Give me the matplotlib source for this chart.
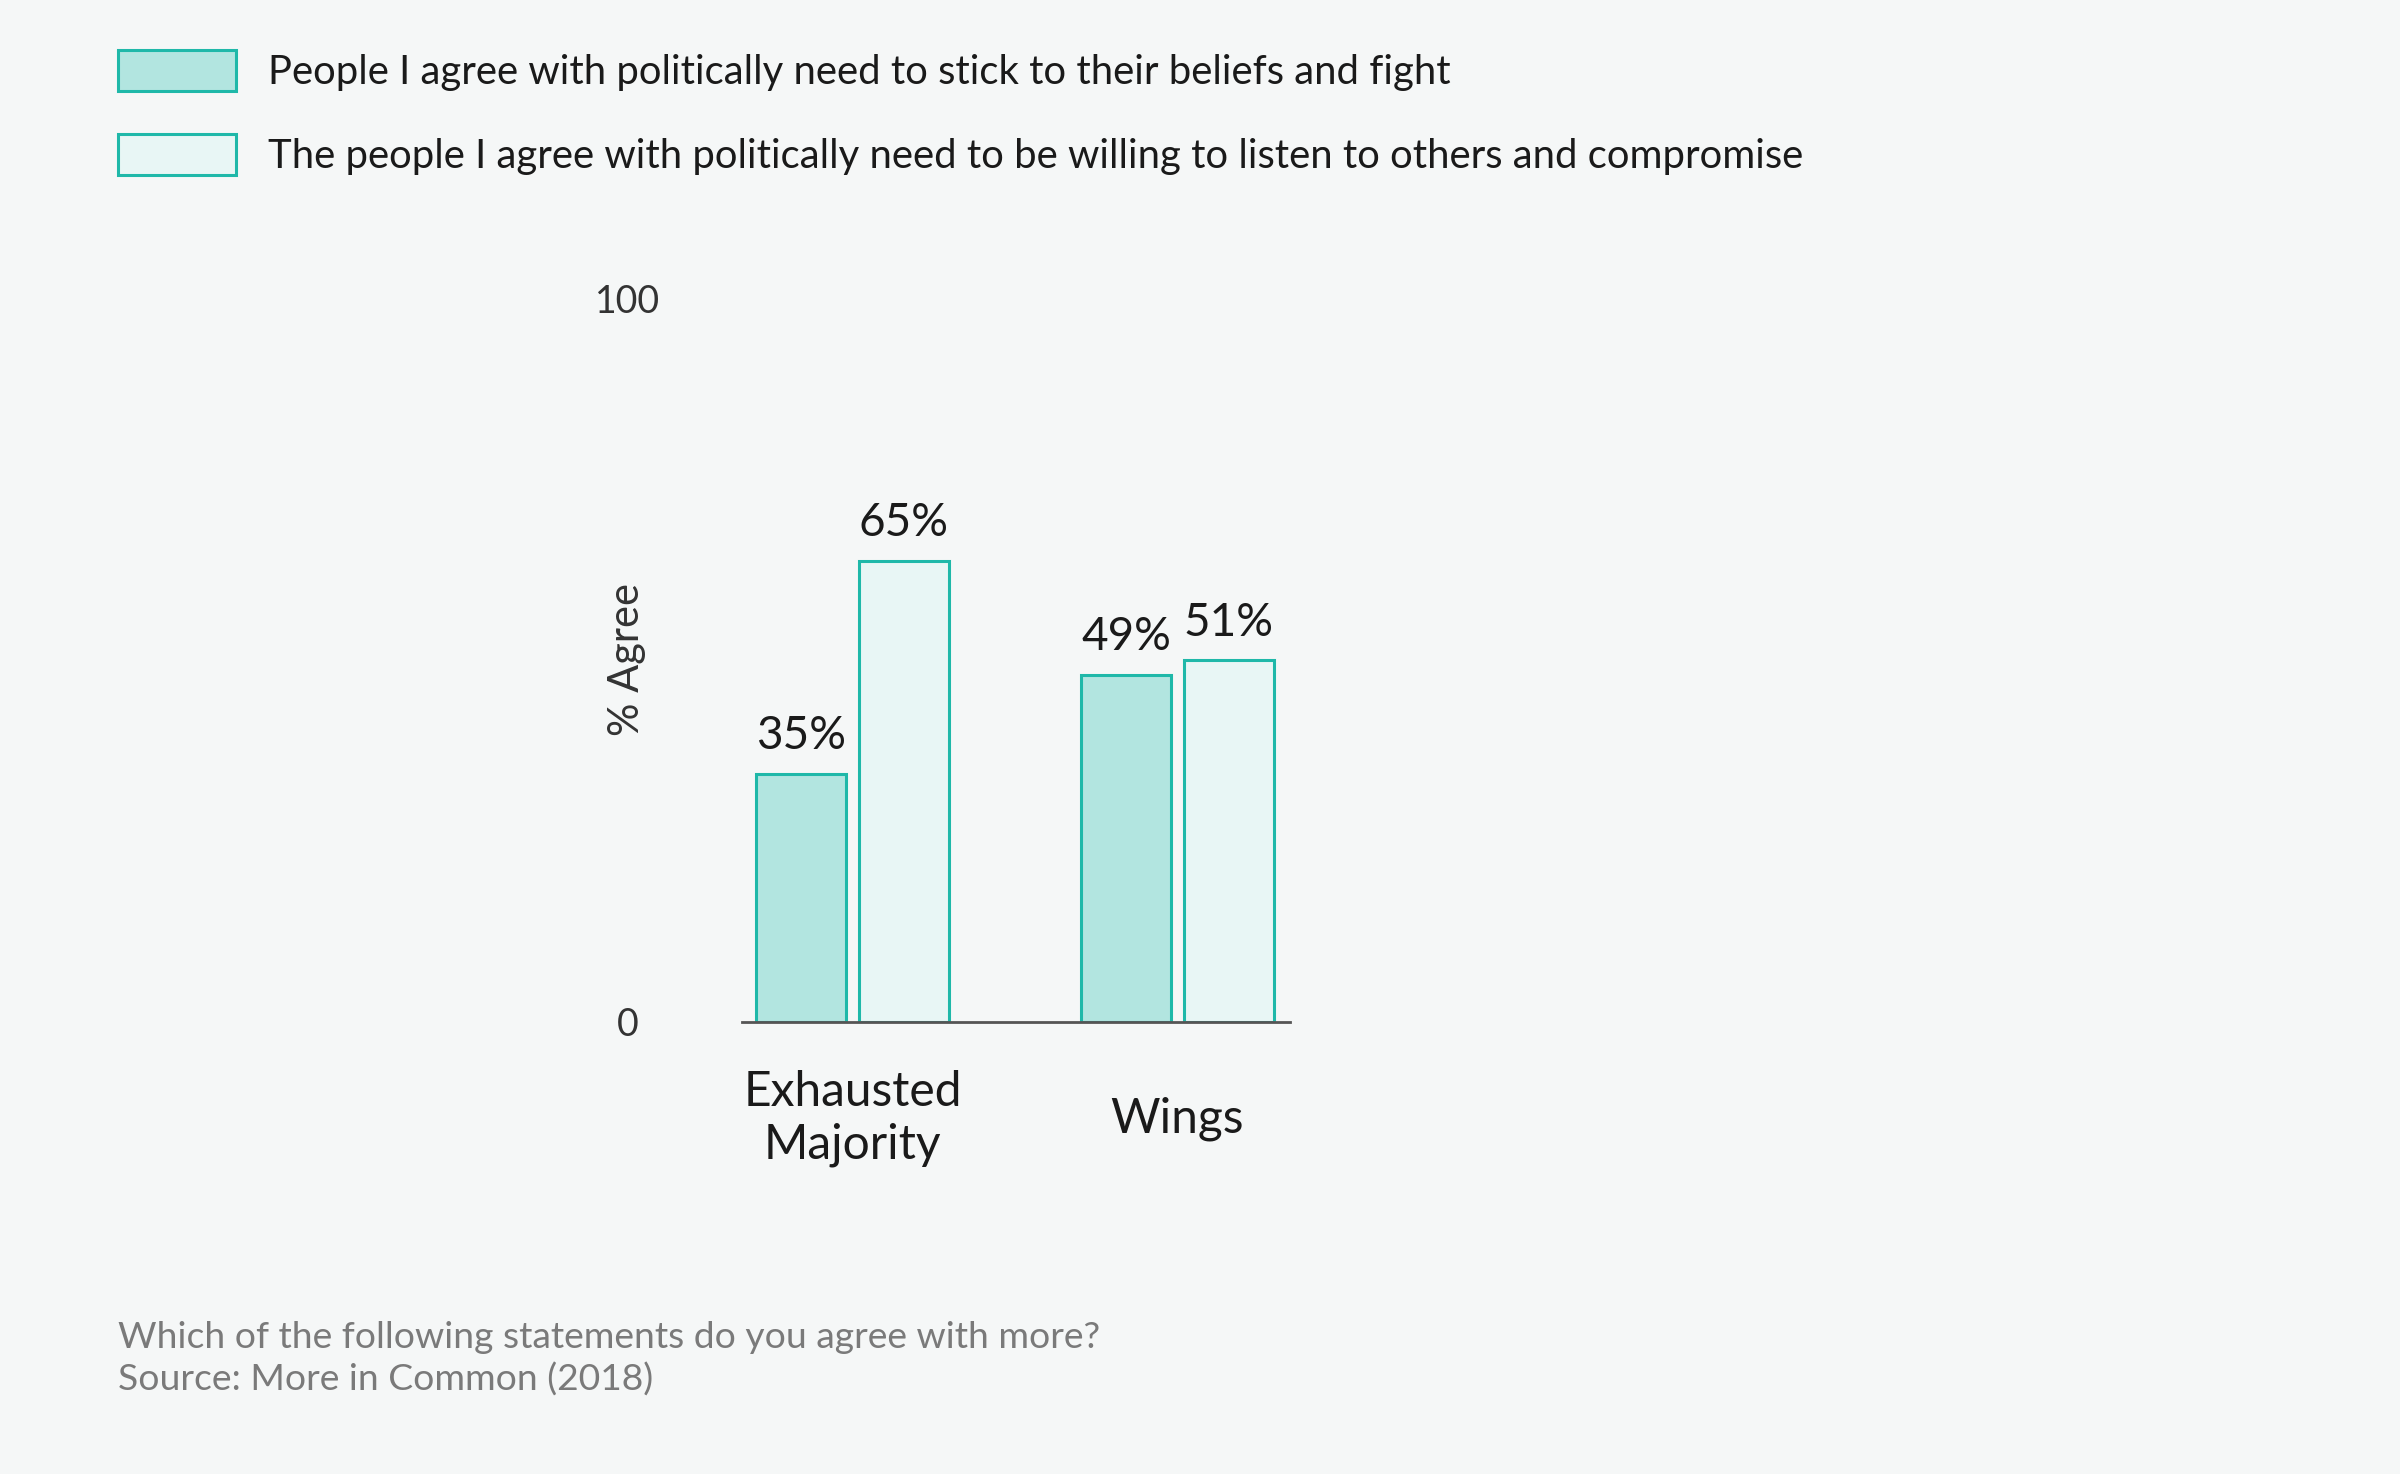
import numpy as np
import matplotlib.pyplot as plt

groups = ["Exhausted\nMajority", "Wings"]
fight = [35, 49]
compromise = [65, 51]
series_names = ["People I agree with politically need to stick to their beliefs and fight",
                "The people I agree with politically need to be willing to listen to others and compromise"]
footer = ["Which of the following statements do you agree with more?",
          "Source: More in Common (2018)"]

bg = "#f5f7f7"
edge = "#1fb8a9"
dark_fill = "#b2e5e0"
light_fill = "#e8f6f5"

plt.rcParams['font.family'] = ['Lato', 'DejaVu Sans']

fig = plt.figure(figsize=(24, 14.74), dpi=100, facecolor=bg)
ax = fig.add_axes([0.309, 0.3067, 0.2283, 0.481])
ax.set_facecolor(bg)

x = np.arange(len(groups))
w = 0.277
off = 0.158
b1 = ax.bar(x - off, fight, w, color=dark_fill, edgecolor=edge, linewidth=2.2,
            label=series_names[0])
b2 = ax.bar(x + off, compromise, w, color=light_fill, edgecolor=edge, linewidth=2.2,
            label=series_names[1])

ax.bar_label(b1, labels=[f"{v}%" for v in fight], padding=12, fontsize=33, color="#1a1a1a")
ax.bar_label(b2, labels=[f"{v}%" for v in compromise], padding=12, fontsize=33, color="#1a1a1a")

ax.set_xlim(-0.342, 1.345)
ax.set_ylim(0, 100)
ax.set_xticks(x)
ax.set_xticklabels(groups, fontsize=34.5, color="#1a1a1a", linespacing=1.22)
ax.tick_params(axis='x', length=0, pad=69.5)
for t in ax.get_xticklabels():
    t.set_va('center')
ax.set_yticks([0, 100])
ax.set_yticklabels(["0", "100"], fontsize=27, color="#333333")
ax.tick_params(axis='y', length=0, pad=82)
ylabs = ax.get_yticklabels()
for t in ylabs:
    t.set_ha('center')
ylabs[1].set_va('baseline')

ax.set_ylabel("% Agree", fontsize=30, color="#333333", va='center')
ax.yaxis.set_label_coords(-0.209, 0.511)

for s in ['top', 'right', 'left']:
    ax.spines[s].set_visible(False)
ax.spines['bottom'].set_color("#555555")
ax.spines['bottom'].set_linewidth(2)

fig.legend(handles=[b1, b2], loc='upper left', bbox_to_anchor=(0.049, 0.966),
           frameon=False, fontsize=28.8, handlelength=2.97, handleheight=1.2,
           handletextpad=0.78, labelspacing=1.075, borderpad=0, borderaxespad=0,
           labelcolor="#1a1a1a")

fig.text(0.049, 1 - 1338 / 1474, footer[0], fontsize=26.8, color="#7a7a7a", va='center')
fig.text(0.049, 1 - 1380 / 1474, footer[1], fontsize=26.8, color="#7a7a7a", va='center')

fig.savefig("out.png", dpi=100, facecolor=bg)
